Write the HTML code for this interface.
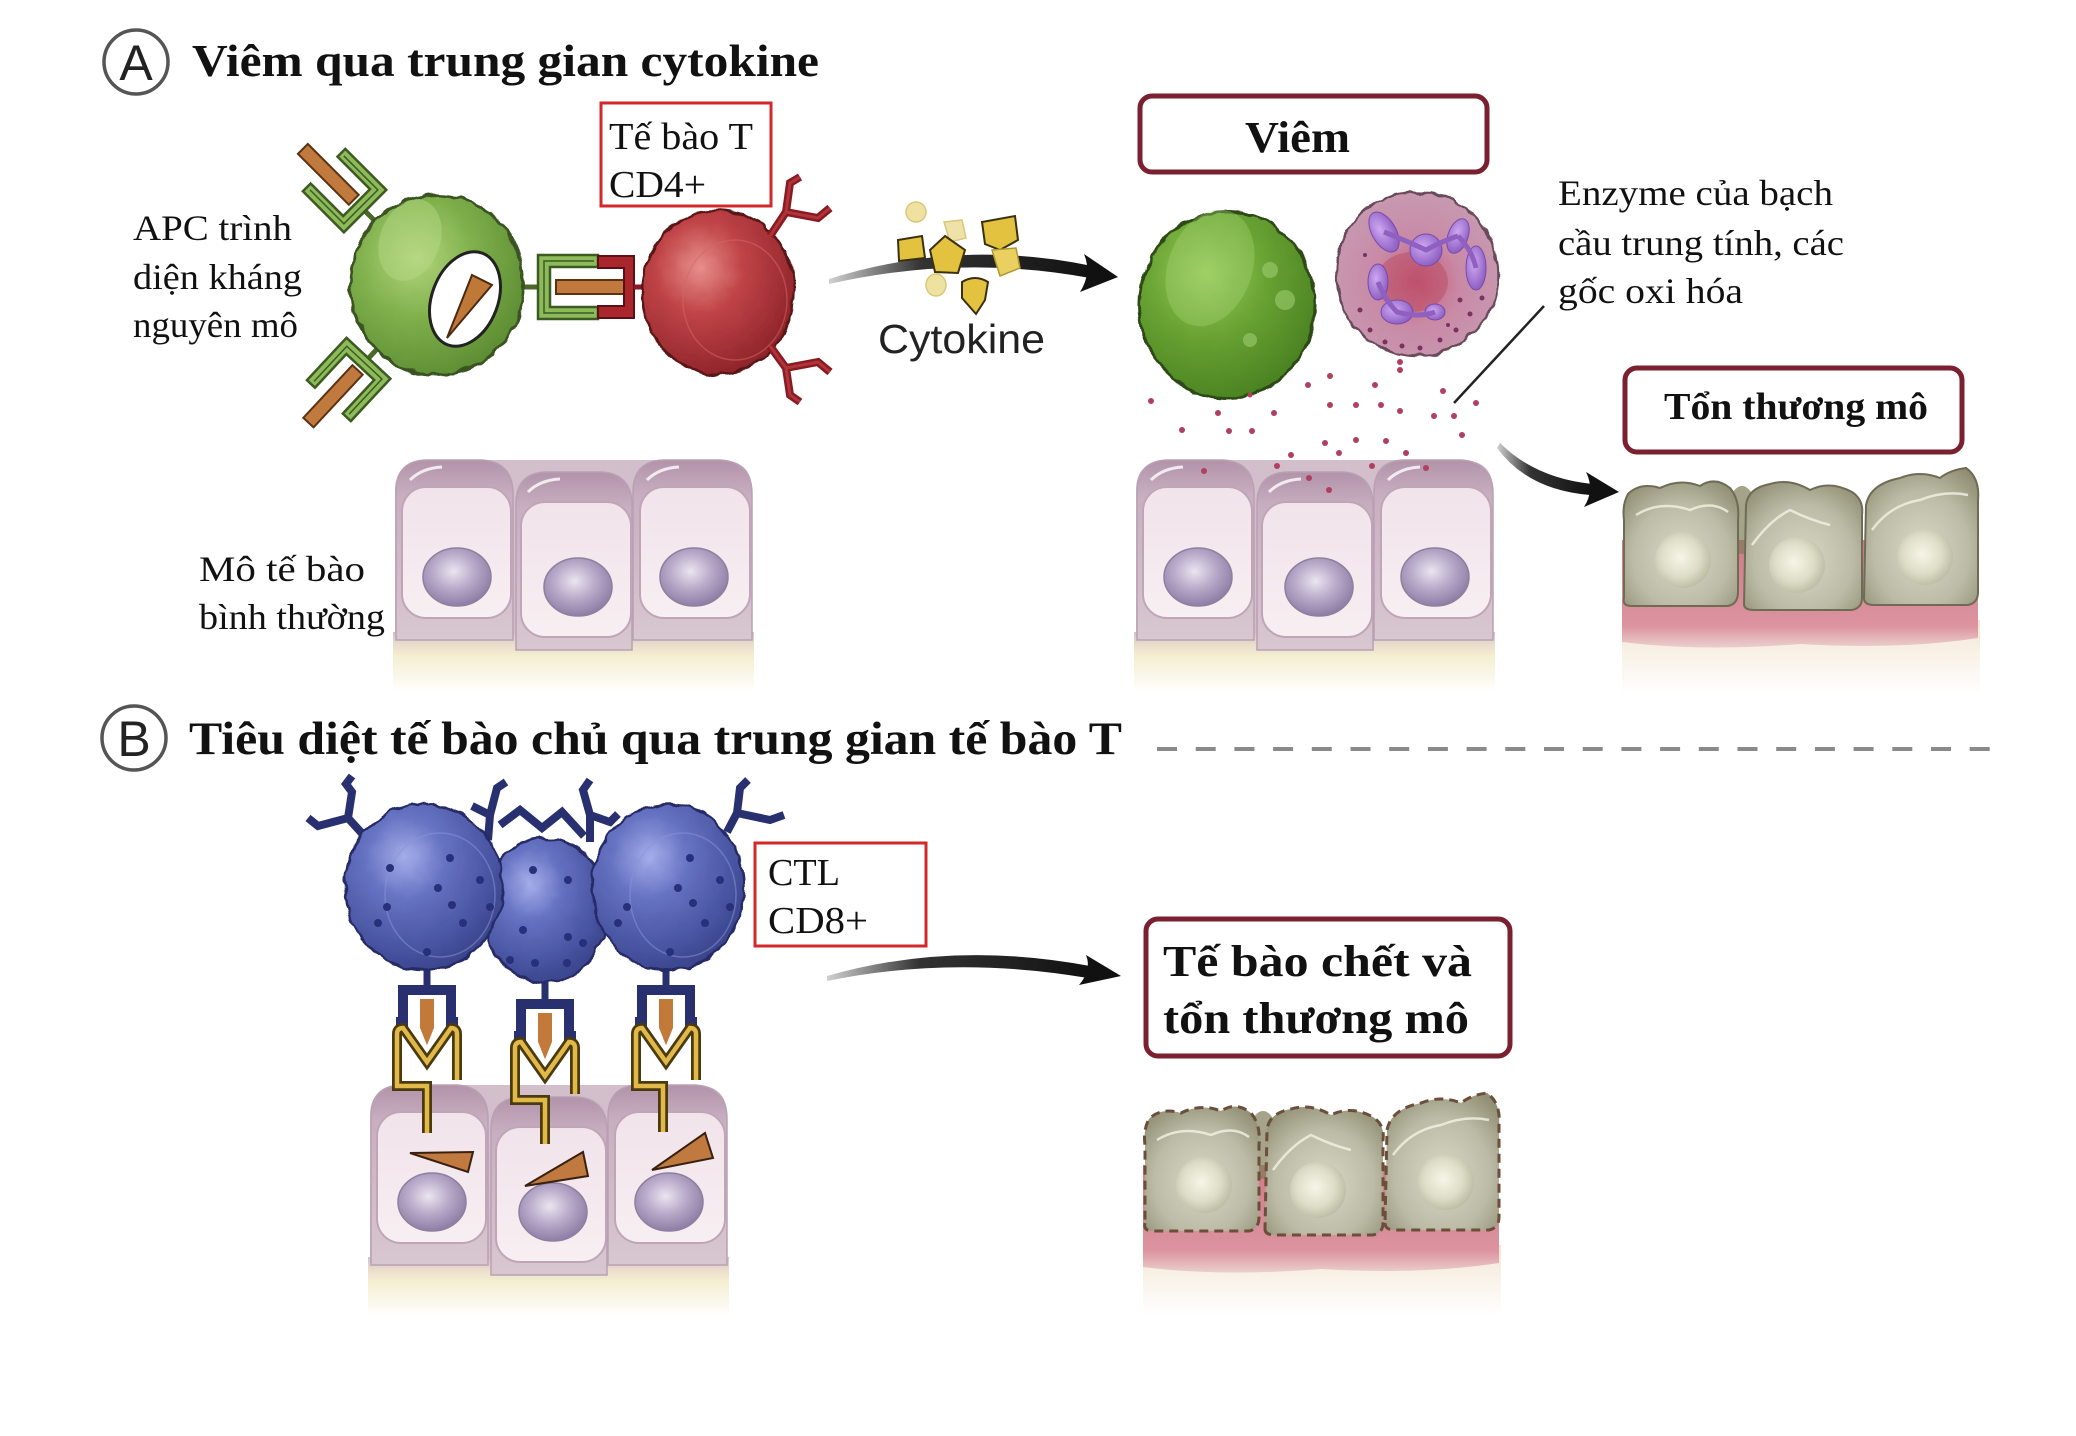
<!DOCTYPE html>
<html><head><meta charset="utf-8"><style>
html,body{margin:0;padding:0;background:#fff;}
svg{display:block;}
.s{font-family:"Liberation Serif","DejaVu Serif",serif;fill:#111;}
.b{font-family:"Liberation Serif","DejaVu Serif",serif;font-weight:bold;fill:#111;}
.a{font-family:"Liberation Sans","DejaVu Sans",sans-serif;fill:#222;}
</style></head><body>
<svg width="2076" height="1436" viewBox="0 0 2076 1436" xmlns="http://www.w3.org/2000/svg">
<defs>
<filter id="bumpy" x="-8%" y="-8%" width="116%" height="116%"><feTurbulence type="fractalNoise" baseFrequency="0.07" numOctaves="2" seed="3"/><feDisplacementMap in="SourceGraphic" scale="7" xChannelSelector="R" yChannelSelector="G"/></filter>
<linearGradient id="gCell" x1="0" y1="0" x2="0" y2="1"><stop offset="0" stop-color="#b293aa"/><stop offset="0.2" stop-color="#c8afc0"/><stop offset="1" stop-color="#d8c7d1"/></linearGradient>
<linearGradient id="gInner" x1="0" y1="0" x2="0" y2="1"><stop offset="0" stop-color="#f1e3ea"/><stop offset="1" stop-color="#f7eff2"/></linearGradient>
<radialGradient id="gNuc" cx="0.45" cy="0.4" r="0.6"><stop offset="0" stop-color="#ebe5f0"/><stop offset="0.5" stop-color="#b9abca"/><stop offset="1" stop-color="#8e7ea6"/></radialGradient>
<linearGradient id="gBase" x1="0" y1="0" x2="0" y2="1"><stop offset="0" stop-color="#d3c0cb"/><stop offset="0.2" stop-color="#eadccc"/><stop offset="0.4" stop-color="#f4eed0"/><stop offset="1" stop-color="#ffffff"/></linearGradient>
<radialGradient id="gGreen" cx="0.38" cy="0.35" r="0.7"><stop offset="0" stop-color="#b2d67c"/><stop offset="0.5" stop-color="#7dae4a"/><stop offset="1" stop-color="#5c8c32"/></radialGradient>
<radialGradient id="gGreen2" cx="0.38" cy="0.33" r="0.7"><stop offset="0" stop-color="#98cc5c"/><stop offset="0.5" stop-color="#68a232"/><stop offset="1" stop-color="#4a8222"/></radialGradient>
<radialGradient id="gRed" cx="0.38" cy="0.35" r="0.7"><stop offset="0" stop-color="#e8908c"/><stop offset="0.4" stop-color="#c04448"/><stop offset="1" stop-color="#8c2228"/></radialGradient>
<radialGradient id="gBlue" cx="0.38" cy="0.32" r="0.72"><stop offset="0" stop-color="#a4aeea"/><stop offset="0.35" stop-color="#6672c2"/><stop offset="0.8" stop-color="#46529e"/><stop offset="1" stop-color="#39438a"/></radialGradient>
<radialGradient id="gNeut" cx="0.5" cy="0.55" r="0.6"><stop offset="0" stop-color="#c45a78"/><stop offset="0.45" stop-color="#c98aa6"/><stop offset="1" stop-color="#c69cb2"/></radialGradient>
<radialGradient id="gLobe" cx="0.4" cy="0.4" r="0.7"><stop offset="0" stop-color="#cfa8f2"/><stop offset="1" stop-color="#8455bc"/></radialGradient>
<radialGradient id="gDmg" cx="0.5" cy="0.6" r="0.7"><stop offset="0" stop-color="#d8d8c6"/><stop offset="0.6" stop-color="#bcbba6"/><stop offset="1" stop-color="#8f8d72"/></radialGradient>
<radialGradient id="gDmgNuc" cx="0.45" cy="0.45" r="0.6"><stop offset="0" stop-color="#f6f6e8"/><stop offset="0.6" stop-color="#dcdcc6"/><stop offset="1" stop-color="#b8b8a0"/></radialGradient>
<linearGradient id="gPink" x1="0" y1="0" x2="0" y2="1"><stop offset="0" stop-color="#d27a88"/><stop offset="0.8" stop-color="#dc94a0"/><stop offset="1" stop-color="#ead0cc"/></linearGradient>
<linearGradient id="gCream" x1="0" y1="0" x2="0" y2="1"><stop offset="0" stop-color="#f3e6d3"/><stop offset="1" stop-color="#ffffff"/></linearGradient>
<linearGradient id="gArr" x1="0" y1="0" x2="1" y2="0"><stop offset="0" stop-color="#d0d0d0"/><stop offset="0.35" stop-color="#333"/><stop offset="1" stop-color="#111"/></linearGradient>
</defs>

<!-- ===== Section A titles ===== -->
<circle cx="136" cy="62" r="32" fill="none" stroke="#555" stroke-width="3.5"/>
<text class="a" x="136" y="80" font-size="50" text-anchor="middle">A</text>
<text class="b" x="192" y="76" font-size="46" textLength="627" lengthAdjust="spacingAndGlyphs">Viêm qua trung gian cytokine</text>

<text class="s" x="133" y="240" font-size="36" textLength="159" lengthAdjust="spacingAndGlyphs">APC trình</text>
<text class="s" x="133" y="289" font-size="36" textLength="169" lengthAdjust="spacingAndGlyphs">diện kháng</text>
<text class="s" x="133" y="337" font-size="36" textLength="165" lengthAdjust="spacingAndGlyphs">nguyên mô</text>

<rect x="601" y="103" width="170" height="103" fill="none" stroke="#d2282a" stroke-width="3"/>
<text class="s" x="609" y="149" font-size="38" textLength="144" lengthAdjust="spacingAndGlyphs">Tế bào T</text>
<text class="s" x="609" y="197" font-size="38" textLength="97" lengthAdjust="spacingAndGlyphs">CD4+</text>

<!-- APC receptors -->
<g transform="translate(375,221) rotate(-135)">
 <line x1="0" y1="0" x2="16" y2="0" stroke="#4a6a2a" stroke-width="5"/>
 <path d="M72,-30 H14 V30 H72 V19 H26 V-19 H72 Z" fill="#8dbb5a" stroke="#3d5a22" stroke-width="2.5"/>
 <path d="M68,-24 H20 V24 H68" fill="none" stroke="#3d5a22" stroke-width="1.5"/>
 <rect x="30" y="-7" width="72" height="14" fill="#c07a3e" stroke="#5a3212" stroke-width="2"/>
</g>
<g transform="translate(378,348) rotate(133)">
 <line x1="0" y1="0" x2="16" y2="0" stroke="#4a6a2a" stroke-width="5"/>
 <path d="M72,-30 H14 V30 H72 V19 H26 V-19 H72 Z" fill="#8dbb5a" stroke="#3d5a22" stroke-width="2.5"/>
 <path d="M68,-24 H20 V24 H68" fill="none" stroke="#3d5a22" stroke-width="1.5"/>
 <rect x="30" y="-7" width="72" height="14" fill="#c07a3e" stroke="#5a3212" stroke-width="2"/>
</g>
<g transform="translate(522,287)">
 <line x1="0" y1="0" x2="16" y2="0" stroke="#4a6a2a" stroke-width="5"/>
 <path d="M76,-32 H16 V32 H76 V20 H28 V-20 H76 Z" fill="#8dbb5a" stroke="#3d5a22" stroke-width="2.5"/>
 <path d="M72,-26 H22 V26 H72" fill="none" stroke="#3d5a22" stroke-width="1.5"/>
 <rect x="34" y="-7" width="70" height="14" fill="#c07a3e" stroke="#5a3212" stroke-width="2"/>
</g>
<!-- TCR red -->
<path d="M598,256 H634 V318 H598 V306 H624 V268 H598 Z" fill="#a8262c" stroke="#5a1014" stroke-width="2"/>
<line x1="634" y1="287" x2="650" y2="287" stroke="#8a1a20" stroke-width="5"/>

<!-- APC cell -->
<ellipse cx="437" cy="285" rx="87" ry="90" fill="url(#gGreen)" stroke="#3a5220" stroke-width="3" filter="url(#bumpy)"/>
<ellipse cx="410" cy="240" rx="30" ry="42" fill="#b8da88" opacity="0.45" transform="rotate(20 410 240)"/>
<ellipse cx="465" cy="299" rx="33" ry="49" fill="#fff" stroke="#222" stroke-width="3" transform="rotate(21 465 299)"/>
<polygon points="447,338 472,275 492,285" fill="#c07838" stroke="#4a2a10" stroke-width="2"/>

<!-- T cell -->
<ellipse cx="718" cy="292" rx="76" ry="82" fill="url(#gRed)" stroke="#5a1518" stroke-width="2.5" filter="url(#bumpy)"/>
<ellipse cx="735" cy="300" rx="52" ry="60" fill="none" stroke="#d06a6a" stroke-width="1.5" opacity="0.5"/>
<path d="M770,236 L786,212 L790,183 L800,177 M786,212 L818,218 L830,208" fill="none" stroke="#8a1a22" stroke-width="8" stroke-linejoin="miter"/>
<path d="M770,236 L786,212 L790,183 L800,177 M786,212 L818,218 L830,208" fill="none" stroke="#b0343c" stroke-width="3"/>
<path d="M770,346 L786,368 L790,395 L800,402 M786,368 L818,362 L830,372" fill="none" stroke="#8a1a22" stroke-width="8"/>
<path d="M770,346 L786,368 L790,395 L800,402 M786,368 L818,362 L830,372" fill="none" stroke="#b0343c" stroke-width="3"/>

<!-- Arrow A -->
<path d="M829,279 Q960,238 1092,266 L1090,278 Q960,254 829,284 Z" fill="url(#gArr)"/>
<path d="M1084,254 L1118,277 L1080,292 Q1092,273 1084,254 Z" fill="#111"/>

<!-- Cytokine particles -->
<circle cx="916" cy="212" r="10" fill="#efe2a0" stroke="#d8c878" stroke-width="1.5"/>
<polygon points="944,222 962,220 966,238 950,242" fill="#efe2a8" stroke="#d8c878" stroke-width="1.5"/>
<polygon points="898,240 922,236 925,258 899,261" fill="#e2c23e" stroke="#3a3010" stroke-width="2"/>
<polygon points="945,236 965,250 958,273 935,272 930,250" fill="#e2c23e" stroke="#3a3010" stroke-width="2"/>
<polygon points="982,222 1015,216 1018,240 1000,250 985,244" fill="#e2c23e" stroke="#3a3010" stroke-width="2"/>
<polygon points="992,250 1016,248 1020,268 1000,276" fill="#ead060" stroke="#b09830" stroke-width="1.5"/>
<ellipse cx="936" cy="285" rx="10" ry="11" fill="#efe2a0" stroke="#d8c878" stroke-width="1.5"/>
<path d="M962,282 Q975,274 988,282 L985,300 L976,314 L962,298 Z" fill="#e2c23e" stroke="#3a3010" stroke-width="2"/>
<text class="a" x="878" y="353" font-size="41" textLength="167" lengthAdjust="spacingAndGlyphs">Cytokine</text>

<!-- Tissue A1 -->
<g>
 <path d="M395,490 Q395,460 430,460 L720,460 Q752,460 752,490 L752,650 L395,650 Z" fill="#d2bfcb"/>
 <rect x="393" y="632" width="361" height="60" fill="url(#gBase)"/>
 <path d="M396,640 V492 Q396,460 428,460 H482 Q513,462 513,494 V640 Z" fill="url(#gCell)" stroke="#b9a0b2" stroke-width="1.5"/>
 <rect x="402" y="487" width="109" height="131" rx="24" fill="url(#gInner)" stroke="#bfa5b7" stroke-width="2"/>
 <path d="M410,480 Q422,468 442,467" fill="none" stroke="#fff" stroke-width="3" opacity="0.8"/>
 <ellipse cx="457" cy="577" rx="34" ry="29" fill="url(#gNuc)" stroke="#8f7f9f" stroke-width="1.5"/>
 <path d="M633,640 V492 Q633,460 665,460 H720 Q752,462 752,494 V640 Z" fill="url(#gCell)" stroke="#b9a0b2" stroke-width="1.5"/>
 <rect x="640" y="487" width="110" height="131" rx="24" fill="url(#gInner)" stroke="#bfa5b7" stroke-width="2"/>
 <path d="M647,480 Q659,468 679,467" fill="none" stroke="#fff" stroke-width="3" opacity="0.8"/>
 <ellipse cx="694" cy="577" rx="34" ry="29" fill="url(#gNuc)" stroke="#8f7f9f" stroke-width="1.5"/>
 <path d="M516,650 V504 Q516,472 548,472 H602 Q632,474 632,506 V650 Z" fill="url(#gCell)" stroke="#b9a0b2" stroke-width="1.5"/>
 <rect x="521" y="502" width="110" height="135" rx="24" fill="url(#gInner)" stroke="#bfa5b7" stroke-width="2"/>
 <path d="M528,492 Q540,480 560,479" fill="none" stroke="#fff" stroke-width="3" opacity="0.8"/>
 <ellipse cx="578" cy="587" rx="34" ry="29" fill="url(#gNuc)" stroke="#8f7f9f" stroke-width="1.5"/>
</g>
<text class="s" x="199" y="581" font-size="36" textLength="166" lengthAdjust="spacingAndGlyphs">Mô tế bào</text>
<text class="s" x="199" y="629" font-size="36" textLength="186" lengthAdjust="spacingAndGlyphs">bình thường</text>

<!-- Viêm box -->
<rect x="1140" y="96" width="347" height="76" rx="12" fill="#fff" stroke="#7a2030" stroke-width="5"/>
<text class="b" x="1245" y="152" font-size="44" textLength="105" lengthAdjust="spacingAndGlyphs">Viêm</text>

<!-- macrophage -->
<ellipse cx="1227" cy="305" rx="88" ry="93" fill="url(#gGreen2)" stroke="#2e4a18" stroke-width="3" filter="url(#bumpy)"/>
<ellipse cx="1210" cy="268" rx="42" ry="60" fill="#a8d878" opacity="0.35" transform="rotate(20 1210 268)"/>
<circle cx="1270" cy="270" r="8" fill="#9ccc70" opacity="0.6"/>
<circle cx="1285" cy="300" r="10" fill="#9ccc70" opacity="0.6"/>
<circle cx="1250" cy="340" r="7" fill="#9ccc70" opacity="0.6"/>

<!-- neutrophil -->
<ellipse cx="1417" cy="274" rx="81" ry="82" fill="url(#gNeut)" stroke="#6a4a5a" stroke-width="2.5" filter="url(#bumpy)"/>
<ellipse cx="1412" cy="282" rx="36" ry="30" fill="#b8485e" opacity="0.45"/>
<g fill="url(#gLobe)" stroke="#7a4aa8" stroke-width="1">
 <ellipse cx="1384" cy="232" rx="12" ry="22" transform="rotate(-30 1384 232)"/>
 <ellipse cx="1426" cy="250" rx="16" ry="16"/>
 <ellipse cx="1458" cy="236" rx="10" ry="18" transform="rotate(20 1458 236)"/>
 <ellipse cx="1476" cy="268" rx="10" ry="22"/>
 <ellipse cx="1378" cy="282" rx="10" ry="18"/>
 <ellipse cx="1397" cy="312" rx="16" ry="12"/>
 <ellipse cx="1435" cy="312" rx="10" ry="8"/>
</g>
<path d="M1384,232 Q1405,240 1426,250 Q1445,240 1458,236 M1458,236 Q1472,250 1476,268 M1378,282 Q1385,300 1397,312 Q1420,318 1435,312" fill="none" stroke="#9060c0" stroke-width="5"/>
<g fill="#7a3060">
 <circle cx="1370" cy="330" r="2.5"/><circle cx="1385" cy="342" r="2.5"/><circle cx="1402" cy="346" r="2.5"/><circle cx="1420" cy="348" r="2.5"/><circle cx="1440" cy="340" r="2.5"/><circle cx="1456" cy="330" r="2.5"/><circle cx="1470" cy="314" r="2.5"/><circle cx="1482" cy="298" r="2.5"/><circle cx="1460" cy="300" r="2.5"/><circle cx="1360" cy="310" r="2.5"/><circle cx="1448" cy="325" r="2"/><circle cx="1365" cy="255" r="2"/>
</g>

<!-- Enzyme text + leader -->
<text class="s" x="1558" y="205" font-size="36" textLength="275" lengthAdjust="spacingAndGlyphs">Enzyme của bạch</text>
<text class="s" x="1558" y="255" font-size="36" textLength="286" lengthAdjust="spacingAndGlyphs">cầu trung tính, các</text>
<text class="s" x="1558" y="303" font-size="36" textLength="185" lengthAdjust="spacingAndGlyphs">gốc oxi hóa</text>
<line x1="1544" y1="306" x2="1454" y2="403" stroke="#222" stroke-width="2.5"/>

<!-- Tissue A2 -->
<g transform="translate(741,0)">
 <path d="M395,490 Q395,460 430,460 L720,460 Q752,460 752,490 L752,650 L395,650 Z" fill="#d2bfcb"/>
 <rect x="393" y="632" width="361" height="60" fill="url(#gBase)"/>
 <path d="M396,640 V492 Q396,460 428,460 H482 Q513,462 513,494 V640 Z" fill="url(#gCell)" stroke="#b9a0b2" stroke-width="1.5"/>
 <rect x="402" y="487" width="109" height="131" rx="24" fill="url(#gInner)" stroke="#bfa5b7" stroke-width="2"/>
 <path d="M410,480 Q422,468 442,467" fill="none" stroke="#fff" stroke-width="3" opacity="0.8"/>
 <ellipse cx="457" cy="577" rx="34" ry="29" fill="url(#gNuc)" stroke="#8f7f9f" stroke-width="1.5"/>
 <path d="M633,640 V492 Q633,460 665,460 H720 Q752,462 752,494 V640 Z" fill="url(#gCell)" stroke="#b9a0b2" stroke-width="1.5"/>
 <rect x="640" y="487" width="110" height="131" rx="24" fill="url(#gInner)" stroke="#bfa5b7" stroke-width="2"/>
 <path d="M647,480 Q659,468 679,467" fill="none" stroke="#fff" stroke-width="3" opacity="0.8"/>
 <ellipse cx="694" cy="577" rx="34" ry="29" fill="url(#gNuc)" stroke="#8f7f9f" stroke-width="1.5"/>
 <path d="M516,650 V504 Q516,472 548,472 H602 Q632,474 632,506 V650 Z" fill="url(#gCell)" stroke="#b9a0b2" stroke-width="1.5"/>
 <rect x="521" y="502" width="110" height="135" rx="24" fill="url(#gInner)" stroke="#bfa5b7" stroke-width="2"/>
 <path d="M528,492 Q540,480 560,479" fill="none" stroke="#fff" stroke-width="3" opacity="0.8"/>
 <ellipse cx="578" cy="587" rx="34" ry="29" fill="url(#gNuc)" stroke="#8f7f9f" stroke-width="1.5"/>
</g>
<!-- dots -->
<g fill="#b0405e">
 <circle cx="1151" cy="401" r="3"/><circle cx="1218" cy="413" r="3"/><circle cx="1274" cy="413" r="3"/><circle cx="1182" cy="430" r="3"/><circle cx="1229" cy="431" r="3"/><circle cx="1252" cy="431" r="3"/><circle cx="1308" cy="385" r="3"/><circle cx="1330" cy="376" r="3"/><circle cx="1375" cy="385" r="3"/><circle cx="1400" cy="370" r="3"/><circle cx="1330" cy="405" r="3"/><circle cx="1356" cy="405" r="3"/><circle cx="1381" cy="405" r="3"/><circle cx="1400" cy="411" r="3"/><circle cx="1443" cy="391" r="3"/><circle cx="1476" cy="403" r="3"/><circle cx="1434" cy="416" r="3"/><circle cx="1454" cy="416" r="3"/><circle cx="1325" cy="443" r="3"/><circle cx="1356" cy="440" r="3"/><circle cx="1386" cy="441" r="3"/><circle cx="1462" cy="435" r="3"/><circle cx="1291" cy="455" r="3"/><circle cx="1339" cy="453" r="3"/><circle cx="1406" cy="453" r="3"/><circle cx="1277" cy="466" r="3"/><circle cx="1372" cy="466" r="3"/><circle cx="1204" cy="471" r="3"/><circle cx="1426" cy="468" r="3"/><circle cx="1309" cy="478" r="3"/><circle cx="1329" cy="490" r="3"/><circle cx="1400" cy="362" r="3"/><circle cx="1250" cy="395" r="2.5"/>
</g>

<!-- Arrow A2 -->
<path d="M1500,443 Q1535,478 1592,484 L1590,495 Q1528,490 1497,448 Z" fill="url(#gArr)"/>
<path d="M1586,472 L1619,492 L1584,507 Q1595,490 1586,472 Z" fill="#111"/>

<!-- Tổn thương mô box -->
<rect x="1625" y="368" width="337" height="84" rx="12" fill="#fff" stroke="#7a2030" stroke-width="5"/>
<text class="b" x="1664" y="419" font-size="38" textLength="264" lengthAdjust="spacingAndGlyphs">Tổn thương mô</text>

<!-- Damaged tissue A -->
<g>
 <rect x="1622" y="620" width="358" height="75" fill="url(#gCream)"/>
 <path d="M1622,540 H1978 V638 Q1900,650 1800,644 Q1700,652 1622,642 Z" fill="url(#gPink)"/>
 <ellipse cx="1742" cy="520" rx="16" ry="34" fill="#7f7c58" opacity="0.7"/>
 <path d="M1624,598 Q1622,606 1632,606 H1728 Q1738,604 1738,592 V520 Q1740,500 1730,488 Q1715,476 1700,486 Q1680,478 1660,488 Q1640,482 1628,494 Q1622,505 1624,520 Z" fill="url(#gDmg)" stroke="#6e6c55" stroke-width="2"/>
 <path d="M1636,515 Q1660,500 1690,510 Q1712,500 1728,512" fill="none" stroke="#f2f2e6" stroke-width="2.5" opacity="0.8"/>
 <circle cx="1683" cy="560" r="28" fill="url(#gDmgNuc)"/>
 <path d="M1744,604 Q1744,610 1754,610 H1852 Q1862,608 1862,598 V515 Q1864,500 1852,492 Q1830,480 1810,490 Q1790,478 1770,484 Q1748,488 1746,505 Z" fill="url(#gDmg)" stroke="#6e6c55" stroke-width="2"/>
 <path d="M1752,545 Q1770,520 1790,510 Q1810,520 1830,525" fill="none" stroke="#f2f2e6" stroke-width="2.5" opacity="0.8"/>
 <circle cx="1797" cy="565" r="28" fill="url(#gDmgNuc)"/>
 <path d="M1864,598 Q1864,605 1874,605 H1968 Q1978,603 1978,592 V500 Q1980,478 1966,468 Q1950,470 1940,478 Q1920,470 1900,478 Q1870,484 1866,505 Z" fill="url(#gDmg)" stroke="#6e6c55" stroke-width="2"/>
 <path d="M1872,530 Q1890,505 1920,500 Q1945,490 1968,495" fill="none" stroke="#f2f2e6" stroke-width="2.5" opacity="0.8"/>
 <circle cx="1925" cy="557" r="28" fill="url(#gDmgNuc)"/>
</g>

<!-- ===== Section B ===== -->
<circle cx="134" cy="738" r="32" fill="none" stroke="#555" stroke-width="3.5"/>
<text class="a" x="134" y="756" font-size="50" text-anchor="middle">B</text>
<text class="b" x="189" y="754" font-size="47" textLength="933" lengthAdjust="spacingAndGlyphs">Tiêu diệt tế bào chủ qua trung gian tế bào T</text>
<line x1="1157" y1="749" x2="2002" y2="749" stroke="#8a8a8a" stroke-width="4" stroke-dasharray="20 18.7"/>

<!-- Tissue B -->
<g transform="translate(-25,625)">
 <path d="M395,490 Q395,460 430,460 L720,460 Q752,460 752,490 L752,650 L395,650 Z" fill="#d2bfcb"/>
 <rect x="393" y="632" width="361" height="60" fill="url(#gBase)"/>
 <path d="M396,640 V492 Q396,460 428,460 H482 Q513,462 513,494 V640 Z" fill="url(#gCell)" stroke="#b9a0b2" stroke-width="1.5"/>
 <rect x="402" y="487" width="109" height="131" rx="24" fill="url(#gInner)" stroke="#bfa5b7" stroke-width="2"/>
 <ellipse cx="457" cy="577" rx="34" ry="29" fill="url(#gNuc)" stroke="#8f7f9f" stroke-width="1.5"/>
 <path d="M633,640 V492 Q633,460 665,460 H720 Q752,462 752,494 V640 Z" fill="url(#gCell)" stroke="#b9a0b2" stroke-width="1.5"/>
 <rect x="640" y="487" width="110" height="131" rx="24" fill="url(#gInner)" stroke="#bfa5b7" stroke-width="2"/>
 <ellipse cx="694" cy="577" rx="34" ry="29" fill="url(#gNuc)" stroke="#8f7f9f" stroke-width="1.5"/>
 <path d="M516,650 V504 Q516,472 548,472 H602 Q632,474 632,506 V650 Z" fill="url(#gCell)" stroke="#b9a0b2" stroke-width="1.5"/>
 <rect x="521" y="502" width="110" height="135" rx="24" fill="url(#gInner)" stroke="#bfa5b7" stroke-width="2"/>
 <ellipse cx="578" cy="587" rx="34" ry="29" fill="url(#gNuc)" stroke="#8f7f9f" stroke-width="1.5"/>
</g>
<!-- cones in tissue B -->
<polygon points="410,1153 473,1152 468,1172" fill="#c07a40" stroke="#3a2010" stroke-width="2"/>
<polygon points="525,1186 583,1152 588,1176" fill="#c07a40" stroke="#3a2010" stroke-width="2"/>
<polygon points="652,1170 705,1133 713,1158" fill="#c07a40" stroke="#3a2010" stroke-width="2"/>

<!-- synapses -->
<g transform="translate(427,968)">
 <line x1="0" y1="0" x2="0" y2="22" stroke="#283070" stroke-width="7"/>
 <path d="M-31,54 H-24 V22 H24 V54 H31" fill="none" stroke="#283070" stroke-width="10"/>
 <path d="M-8,30 H8 V60 L0,80 L-8,60 Z" fill="#c27a3a" stroke="#fff" stroke-width="2"/>
 <path d="M-30,112 V66 Q-30,60 -24,60 L0,94 L24,60 Q30,60 30,66 V112 M-30,112 L-30,118 L0,118 L0,165" fill="none" stroke="#4a3a10" stroke-width="10"/>
 <path d="M-30,112 V66 Q-30,60 -24,60 L0,94 L24,60 Q30,60 30,66 V112 M-30,112 L-30,118 L0,118 L0,165" fill="none" stroke="#e2b848" stroke-width="4.5"/>
</g>
<g transform="translate(545,982)">
 <line x1="0" y1="0" x2="0" y2="22" stroke="#283070" stroke-width="7"/>
 <path d="M-31,54 H-24 V22 H24 V54 H31" fill="none" stroke="#283070" stroke-width="10"/>
 <path d="M-8,30 H8 V60 L0,80 L-8,60 Z" fill="#c27a3a" stroke="#fff" stroke-width="2"/>
 <path d="M-30,112 V66 Q-30,60 -24,60 L0,94 L24,60 Q30,60 30,66 V112 M-30,112 L-30,118 L0,118 L0,162" fill="none" stroke="#4a3a10" stroke-width="10"/>
 <path d="M-30,112 V66 Q-30,60 -24,60 L0,94 L24,60 Q30,60 30,66 V112 M-30,112 L-30,118 L0,118 L0,162" fill="none" stroke="#e2b848" stroke-width="4.5"/>
</g>
<g transform="translate(666,968)">
 <line x1="0" y1="0" x2="0" y2="22" stroke="#283070" stroke-width="7"/>
 <path d="M-31,54 H-24 V22 H24 V54 H31" fill="none" stroke="#283070" stroke-width="10"/>
 <path d="M-8,30 H8 V60 L0,80 L-8,60 Z" fill="#c27a3a" stroke="#fff" stroke-width="2"/>
 <path d="M-30,112 V66 Q-30,60 -24,60 L0,94 L24,60 Q30,60 30,66 V112 M-30,112 L-30,118 L-3,118 L-3,164" fill="none" stroke="#4a3a10" stroke-width="10"/>
 <path d="M-30,112 V66 Q-30,60 -24,60 L0,94 L24,60 Q30,60 30,66 V112 M-30,112 L-30,118 L-3,118 L-3,164" fill="none" stroke="#e2b848" stroke-width="4.5"/>
</g>

<!-- blue receptors -->
<g fill="none" stroke="#283070" stroke-width="8" stroke-linejoin="miter">
 <path d="M368,840 L348,818 L318,826 L308,818 M348,818 L352,792 L346,784 L352,776"/>
 <path d="M488,840 L490,815 L472,806 M490,815 L497,788 L506,782 M500,825 L520,810 L542,828 L562,812 L584,836"/>
 <path d="M590,842 L590,815 L583,790 L590,780 M590,815 L610,822 L618,814"/>
 <path d="M727,832 L737,813 L740,788 L748,780 M737,813 L770,820 L784,815"/>
</g>

<!-- blue cells -->
<ellipse cx="545" cy="910" rx="62" ry="72" fill="url(#gBlue)" stroke="#262c66" stroke-width="2.5" filter="url(#bumpy)"/>
<ellipse cx="424" cy="887" rx="79" ry="83" fill="url(#gBlue)" stroke="#262c66" stroke-width="2.5" filter="url(#bumpy)"/>
<ellipse cx="668" cy="887" rx="76" ry="83" fill="url(#gBlue)" stroke="#262c66" stroke-width="2.5" filter="url(#bumpy)"/>
<ellipse cx="440" cy="895" rx="55" ry="62" fill="none" stroke="#8a96d6" stroke-width="1.5" opacity="0.5"/>
<ellipse cx="683" cy="895" rx="53" ry="62" fill="none" stroke="#8a96d6" stroke-width="1.5" opacity="0.5"/>
<g fill="#27307a">
 <circle cx="390" cy="868" r="4"/><circle cx="450" cy="858" r="4"/><circle cx="438" cy="888" r="4"/><circle cx="452" cy="905" r="4"/><circle cx="387" cy="907" r="4"/><circle cx="378" cy="923" r="4"/><circle cx="463" cy="923" r="4"/><circle cx="427" cy="952" r="4"/><circle cx="490" cy="907" r="4"/><circle cx="480" cy="880" r="4"/>
 <circle cx="533" cy="870" r="4"/><circle cx="568" cy="880" r="4"/><circle cx="523" cy="930" r="4"/><circle cx="568" cy="937" r="4"/><circle cx="510" cy="960" r="4"/><circle cx="535" cy="963" r="4"/><circle cx="567" cy="963" r="4"/><circle cx="583" cy="943" r="4"/>
 <circle cx="690" cy="858" r="4"/><circle cx="678" cy="888" r="4"/><circle cx="693" cy="903" r="4"/><circle cx="627" cy="907" r="4"/><circle cx="618" cy="923" r="4"/><circle cx="705" cy="923" r="4"/><circle cx="670" cy="952" r="4"/><circle cx="730" cy="907" r="4"/><circle cx="720" cy="880" r="4"/>
</g>

<!-- CTL box -->
<rect x="755" y="843" width="171" height="103" fill="none" stroke="#d2282a" stroke-width="3"/>
<text class="s" x="768" y="885" font-size="38" textLength="72" lengthAdjust="spacingAndGlyphs">CTL</text>
<text class="s" x="768" y="933" font-size="38" textLength="100" lengthAdjust="spacingAndGlyphs">CD8+</text>

<!-- Arrow B -->
<path d="M827,976 Q952,940 1090,966 L1088,978 Q952,955 827,981 Z" fill="url(#gArr)"/>
<path d="M1086,955 L1121,976 L1079,985 Q1092,970 1086,955 Z" fill="#111"/>

<!-- Box B -->
<rect x="1146" y="919" width="364" height="137" rx="12" fill="#fff" stroke="#7a2030" stroke-width="5"/>
<text class="b" x="1163" y="976" font-size="44" textLength="309" lengthAdjust="spacingAndGlyphs">Tế bào chết và</text>
<text class="b" x="1163" y="1033" font-size="44" textLength="306" lengthAdjust="spacingAndGlyphs">tổn thương mô</text>

<!-- Damaged tissue B -->
<g transform="translate(-479,625)">
 <rect x="1622" y="620" width="358" height="70" fill="url(#gCream)"/>
 <path d="M1622,540 H1978 V638 Q1900,650 1800,644 Q1700,652 1622,642 Z" fill="url(#gPink)"/>
 <ellipse cx="1742" cy="520" rx="16" ry="34" fill="#7f7c58" opacity="0.7"/>
 <path d="M1624,598 Q1622,606 1632,606 H1728 Q1738,604 1738,592 V520 Q1740,500 1730,488 Q1715,476 1700,486 Q1680,478 1660,488 Q1640,482 1628,494 Q1622,505 1624,520 Z" fill="url(#gDmg)" stroke="#6b4f3a" stroke-width="3" stroke-dasharray="9 6"/>
 <path d="M1636,515 Q1660,500 1690,510 Q1712,500 1728,512" fill="none" stroke="#f2f2e6" stroke-width="2.5" opacity="0.8"/>
 <circle cx="1683" cy="560" r="28" fill="url(#gDmgNuc)"/>
 <path d="M1744,604 Q1744,610 1754,610 H1852 Q1862,608 1862,598 V515 Q1864,500 1852,492 Q1830,480 1810,490 Q1790,478 1770,484 Q1748,488 1746,505 Z" fill="url(#gDmg)" stroke="#6b4f3a" stroke-width="3" stroke-dasharray="9 6"/>
 <path d="M1752,545 Q1770,520 1790,510 Q1810,520 1830,525" fill="none" stroke="#f2f2e6" stroke-width="2.5" opacity="0.8"/>
 <circle cx="1797" cy="565" r="28" fill="url(#gDmgNuc)"/>
 <path d="M1864,598 Q1864,605 1874,605 H1968 Q1978,603 1978,592 V500 Q1980,478 1966,468 Q1950,470 1940,478 Q1920,470 1900,478 Q1870,484 1866,505 Z" fill="url(#gDmg)" stroke="#6b4f3a" stroke-width="3" stroke-dasharray="9 6"/>
 <path d="M1872,530 Q1890,505 1920,500 Q1945,490 1968,495" fill="none" stroke="#f2f2e6" stroke-width="2.5" opacity="0.8"/>
 <circle cx="1925" cy="557" r="28" fill="url(#gDmgNuc)"/>
</g>
</svg>
</body></html>
